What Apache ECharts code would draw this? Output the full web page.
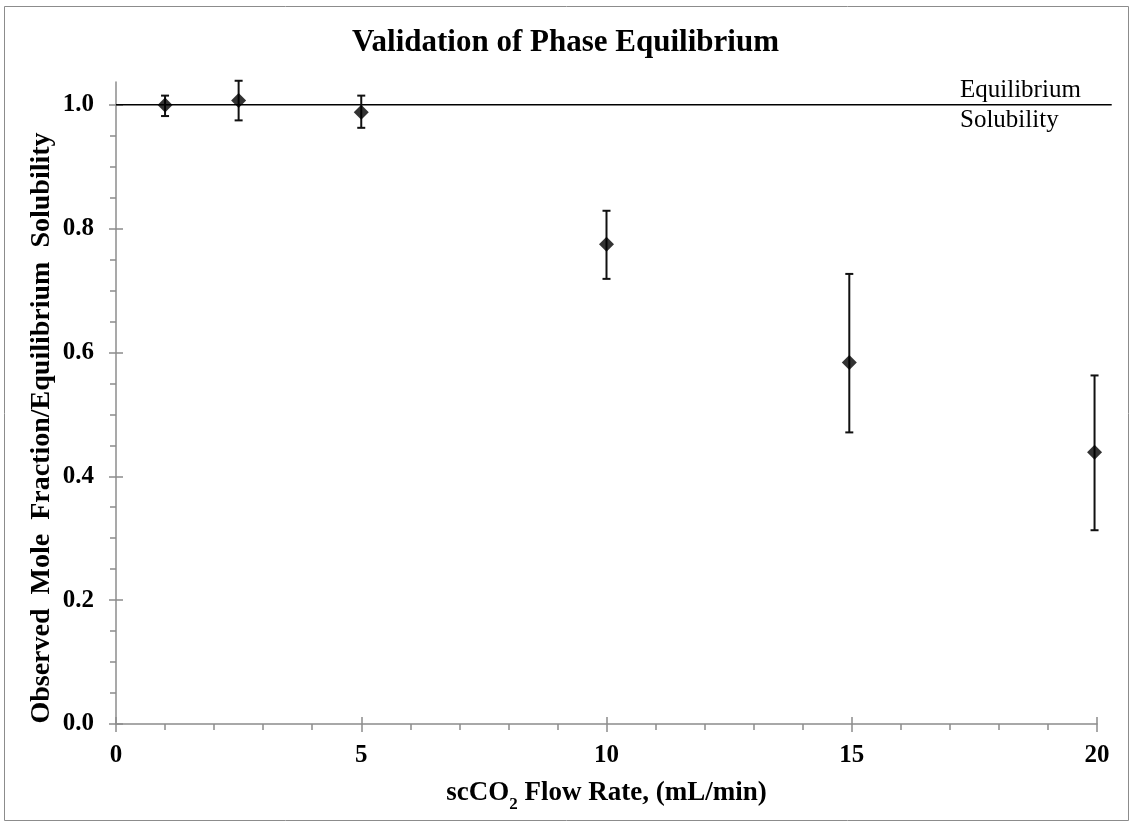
<!DOCTYPE html>
<html><head><meta charset="utf-8">
<script src="https://cdn.jsdelivr.net/npm/echarts@6/dist/echarts.min.js"></script>
<style>html,body{margin:0;padding:0;background:#fff}#c{width:1131px;height:824px}</style>
</head><body><div id="c"></div>
<script>
// ---- data ----
const flowRate = [1, 2.5, 5, 10, 14.95, 19.95];          // scCO2 flow rate, mL/min
const ratio    = [1.0, 1.007, 0.988, 0.775, 0.584, 0.439]; // observed / equilibrium
const errLow   = [0.982, 0.975, 0.963, 0.719, 0.471, 0.313];
const errHigh  = [1.015, 1.039, 1.015, 0.829, 0.727, 0.563];
const equilibriumX = [0, 20.3];
const equilibriumY = [1.0, 1.0];
const equilibriumLabel = ['Equilibrium', 'Solubility'];
const titleText = 'Validation of Phase Equilibrium';
const yName = 'Observed  Mole  Fraction/Equilibrium  Solubility';

const SERIF = '"Liberation Serif", "Times New Roman", serif';
const AX = '#8c8c8c';

const chart = echarts.init(document.getElementById('c'), null, {renderer: 'canvas'});

const points = flowRate.map((x, i) => [x, ratio[i]]);
const bars = flowRate.map((x, i) => [x, errLow[i], errHigh[i]]);
const eqLine = equilibriumX.map((x, i) => [x, equilibriumY[i]]);

const PX_PER_X = 981 / 20;

const option = {
  backgroundColor: '#fff',
  animation: false,
  title: {
    text: titleText, left: 'center', top: 22,
    textStyle: {fontFamily: SERIF, fontWeight: 'bold', fontSize: 31, color: '#000'}
  },
  grid: [
    {left: 116, top: 82, width: 981, height: 642, containLabel: false, outerBoundsMode: 'none'},
    {left: 116, top: 104.7, width: PX_PER_X * equilibriumX[1], height: 619.3, containLabel: false, outerBoundsMode: 'none'}
  ],
  xAxis: [
    { gridIndex: 0, type: 'value', min: 0, max: 20, interval: 5, position: 'bottom',
      axisLine: {show: true, onZero: false, lineStyle: {color: AX, width: 1.5}},
      axisTick: {show: true, inside: false, length: 8, lineStyle: {color: AX, width: 1.5}},
      minorTick: {show: true, splitNumber: 5, length: 6, lineStyle: {color: AX, width: 1.5}},
      splitLine: {show: false}, minorSplitLine: {show: false},
      axisLabel: {show: true, margin: 19, fontFamily: SERIF, fontWeight: 'bold', fontSize: 25, color: '#000'},
      name: '{a|scCO}{s|2}{a| Flow Rate, (mL/min)}', nameLocation: 'middle', nameGap: 51,
      nameTextStyle: {
        fontFamily: SERIF, fontWeight: 'bold', fontSize: 27, color: '#000',
        rich: {
          a: {fontFamily: SERIF, fontWeight: 'bold', fontSize: 27, color: '#000', verticalAlign: 'bottom', lineHeight: 32},
          s: {fontFamily: SERIF, fontWeight: 'bold', fontSize: 17, color: '#000', verticalAlign: 'bottom', lineHeight: 32, padding: [0, 0, -6, 0]}
        }
      }
    },
    { gridIndex: 0, type: 'value', min: 0, max: 20, interval: 5, position: 'bottom',
      axisLine: {show: false, onZero: false},
      axisTick: {show: true, inside: true, length: 7, lineStyle: {color: AX, width: 1.5}},
      axisLabel: {show: false}, splitLine: {show: false}
    },
    { gridIndex: 1, type: 'value', min: 0, max: equilibriumX[1], show: false }
  ],
  yAxis: [
    { gridIndex: 0, type: 'value', min: 0, max: 1.037,
      axisLine: {show: true, onZero: false, lineStyle: {color: AX, width: 1.5}},
      axisTick: {show: false}, axisLabel: {show: false}, splitLine: {show: false}
    },
    { gridIndex: 1, type: 'value', min: 0, max: 1, interval: 0.2, position: 'left',
      axisLine: {show: false, onZero: false},
      axisTick: {show: true, inside: false, length: 7, lineStyle: {color: AX, width: 1.5}},
      minorTick: {show: true, splitNumber: 4, length: 6, lineStyle: {color: AX, width: 1.5}},
      splitLine: {show: false}, minorSplitLine: {show: false},
      axisLabel: {show: true, margin: 22, fontFamily: SERIF, fontWeight: 'bold', fontSize: 25, color: '#000',
                  formatter: v => v.toFixed(1)}
    },
    { gridIndex: 1, type: 'value', min: 0, max: 1, interval: 0.2, position: 'left',
      axisLine: {show: false, onZero: false},
      axisTick: {show: true, inside: true, length: 7, lineStyle: {color: AX, width: 1.5}},
      axisLabel: {show: false}, splitLine: {show: false}
    }
  ],
  series: [
    { type: 'line', xAxisIndex: 2, yAxisIndex: 1, data: eqLine,
      symbol: 'none', lineStyle: {color: '#000', width: 1.5}, z: 2 },
    { type: 'custom', xAxisIndex: 0, yAxisIndex: 0, data: bars, clip: false, z: 3,
      renderItem: (params, api) => {
        const x = api.value(0);
        const lo = api.coord([x, api.value(1)]);
        const hi = api.coord([x, api.value(2)]);
        const cap = 4;
        const st = {stroke: '#111', lineWidth: 2};
        return {type: 'group', children: [
          {type: 'line', shape: {x1: lo[0], y1: lo[1], x2: hi[0], y2: hi[1]}, style: st},
          {type: 'line', shape: {x1: lo[0]-cap, y1: lo[1], x2: lo[0]+cap, y2: lo[1]}, style: st},
          {type: 'line', shape: {x1: hi[0]-cap, y1: hi[1], x2: hi[0]+cap, y2: hi[1]}, style: st}
        ]};
      }
    },
    { type: 'scatter', xAxisIndex: 0, yAxisIndex: 0, data: points, clip: false, z: 4,
      symbol: 'diamond', symbolSize: 15, itemStyle: {color: '#000'} }
  ],
  graphic: [
    {type: 'rect', shape: {x: 4.5, y: 6.5, width: 1124, height: 814}, silent: true, z: -1,
     style: {fill: 'none', stroke: '#8c8c8c', lineWidth: 1}},
    {type: 'text', x: 42, y: 428, rotation: Math.PI / 2,
     style: {text: yName, font: 'bold 28px ' + SERIF, fill: '#000', align: 'center', verticalAlign: 'middle'}},
    {type: 'text', left: 960, top: 78, style: {text: equilibriumLabel[0], font: '25px ' + SERIF, fill: '#000'}},
    {type: 'text', left: 960, top: 108, style: {text: equilibriumLabel[1], font: '25px ' + SERIF, fill: '#000'}}
  ]
};
chart.setOption(option);
</script>
</body></html>
